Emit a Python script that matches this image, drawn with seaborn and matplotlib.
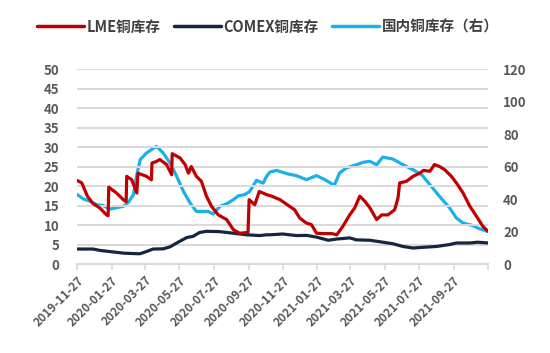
import matplotlib
matplotlib.use("Agg")
import matplotlib.pyplot as plt
from matplotlib.lines import Line2D
import seaborn as sns
import pandas as pd

# ---- data (days since 2019-11-27, values) ----
start_date = "2019-11-27"

lme_day = [0, 8, 18, 28, 40, 52, 55, 56, 70, 82, 87, 88, 97, 106, 108, 123, 132, 133, 141, 147,
           159, 168, 169, 183, 192, 198, 203, 212, 221, 230, 239, 251, 266, 278, 289, 304, 306,
           316, 324, 337, 346, 361, 378, 387, 396, 408, 417, 426, 438, 453, 462, 473, 485, 494,
           503, 512, 521, 533, 542, 553, 565, 571, 574, 586, 598, 610, 616, 628, 636, 645, 654,
           666, 675, 687, 699, 711, 722, 731]
lme_val = [21.4, 20.8, 17.4, 15.5, 14.4, 12.6, 12.4, 19.7, 18.2, 16.5, 16.0, 22.5, 21.6, 18.2,
           23.3, 22.5, 21.6, 25.9, 26.3, 26.8, 25.5, 22.9, 28.3, 27.2, 25.5, 23.3, 25.0, 22.5,
           21.2, 17.4, 14.8, 12.6, 11.4, 8.8, 7.9, 8.1, 16.5, 15.2, 18.6, 17.8, 17.4, 16.5, 14.8,
           13.9, 11.8, 10.5, 10.1, 7.9, 7.8, 7.8, 7.5, 9.7, 12.6, 14.4, 17.4, 16.1, 14.4, 11.4,
           12.6, 12.6, 13.9, 16.9, 20.8, 21.2, 22.5, 23.3, 24.0, 23.8, 25.5, 25.0, 24.2, 22.5,
           20.8, 18.2, 14.8, 12.2, 9.7, 8.4]

comex_day = [0, 28, 40, 64, 82, 106, 112, 123, 135, 153, 165, 177, 195, 206, 218, 230, 254, 278,
             301, 325, 337, 343, 366, 390, 408, 426, 447, 461, 485, 497, 521, 544, 562, 580, 598,
             616, 639, 663, 675, 699, 713, 731]
comex_val = [3.85, 3.85, 3.5, 3.1, 2.8, 2.65, 2.65, 3.2, 3.85, 3.9, 4.4, 5.4, 6.8, 7.1, 8.1, 8.4,
             8.3, 7.9, 7.5, 7.3, 7.5, 7.5, 7.7, 7.3, 7.35, 6.9, 6.1, 6.4, 6.7, 6.2, 6.1, 5.6, 5.2,
             4.5, 4.1, 4.3, 4.5, 5.0, 5.4, 5.4, 5.6, 5.4]

cn_day = [0, 11, 23, 35, 46, 58, 70, 82, 91, 100, 106, 112, 123, 132, 141, 153, 165, 177, 189,
          201, 212, 224, 233, 242, 254, 266, 278, 287, 298, 307, 319, 331, 337, 343, 355, 373,
          390, 408, 426, 441, 453, 458, 467, 479, 497, 509, 521, 533, 544, 562, 580, 598, 613,
          628, 645, 663, 675, 687, 705, 716, 731]
cn_val = [42.7, 40.0, 38.6, 36.5, 36.0, 33.8, 34.7, 35.5, 38.0, 42.7, 55.0, 64.2, 68.3, 70.4,
          72.4, 68.3, 62.2, 54.0, 44.7, 37.5, 32.4, 32.4, 32.4, 30.8, 35.5, 37.1, 39.6, 42.0,
          42.7, 44.7, 51.5, 49.8, 54.0, 56.6, 57.6, 55.6, 54.4, 51.9, 54.4, 51.9, 49.4, 48.8,
          56.0, 59.1, 61.1, 62.6, 63.2, 61.1, 65.8, 64.6, 61.1, 58.0, 55.0, 48.8, 41.6, 34.5,
          28.3, 25.2, 23.6, 21.7, 20.1]

series_names = ["LME铜库存", "COMEX铜库存", "国内铜库存（右）"]
tick_dates = ["2019-11-27", "2020-01-27", "2020-03-27", "2020-05-27", "2020-07-27",
              "2020-09-27", "2020-11-27", "2021-01-27", "2021-03-27", "2021-05-27",
              "2021-07-27", "2021-09-27", "2021-11-27"]
tick_labels = tick_dates[:-1] + [""]

# ---- style ----
sns.set_theme(style="white")
plt.rcParams["font.family"] = ["Noto Sans CJK SC", "DejaVu Sans"]

c_red = "#C00000"
c_navy = "#15263F"
c_blue = "#1CB0E8"
c_grid = "#D9D9D9"
c_text = "#595959"

t0 = pd.Timestamp(start_date)
def to_df(days, vals):
    return pd.DataFrame({"date": t0 + pd.to_timedelta(days, unit="D"), "value": vals})

df_lme = to_df(lme_day, lme_val)
df_comex = to_df(comex_day, comex_val)
df_cn = to_df(cn_day, cn_val)

fig = plt.figure(figsize=(5.5, 3.53), dpi=100)
ax = fig.add_axes([0.1405, 0.252, 0.7465, 0.5525])
ax2 = ax.twinx()

lw = 2.3
sns.lineplot(data=df_comex, x="date", y="value", ax=ax, color=c_navy, linewidth=lw,
             legend=False, zorder=3)
sns.lineplot(data=df_lme, x="date", y="value", ax=ax, color=c_red, linewidth=lw,
             legend=False, zorder=4)
sns.lineplot(data=df_cn, x="date", y="value", ax=ax2, color=c_blue, linewidth=lw,
             legend=False, zorder=3)

ax.set_zorder(ax2.get_zorder() + 1)
ax.patch.set_visible(False)

xmin = pd.Timestamp(tick_dates[0])
xmax = pd.Timestamp(tick_dates[-1])
ax.set_xlim(xmin, xmax)
ax.set_ylim(0, 50)
ax2.set_ylim(0, 120)
ax.set_yticks(range(0, 51, 5))
ax2.set_yticks(range(0, 121, 20))

ax.yaxis.grid(True, color=c_grid, linewidth=1.4)
ax.xaxis.grid(False)
ax2.grid(False)

for a in (ax, ax2):
    for s in ("top", "left", "right", "bottom"):
        a.spines[s].set_visible(False)
ax.spines["bottom"].set_visible(True)
ax.spines["bottom"].set_color(c_grid)
ax.spines["bottom"].set_linewidth(1.4)

ax.set_xticks(pd.to_datetime(tick_dates))
ax.set_xticklabels(tick_labels, rotation=45, ha="right", va="top",
                   rotation_mode="anchor", fontsize=8.5, fontweight="bold", color=c_text)
ax.tick_params(axis="x", length=4, width=1.2, color=c_grid, pad=3, bottom=True)
ax.tick_params(axis="y", length=0, pad=13, labelsize=9.5, labelcolor=c_text)
ax2.tick_params(axis="y", length=0, pad=11, labelsize=9.5, labelcolor=c_text)
for lab in ax.get_yticklabels() + ax2.get_yticklabels():
    lab.set_fontweight("bold")

ax.set_xlabel("")
ax.set_ylabel("")
ax2.set_ylabel("")

handles = [Line2D([0], [0], color=c, linewidth=2.5) for c in (c_red, c_navy, c_blue)]
leg = fig.legend(handles, series_names, loc="center", bbox_to_anchor=(0.487, 0.925), ncol=3,
                 frameon=False, fontsize=10.5, handlelength=3.2, handletextpad=0.2,
                 columnspacing=0.9)
for t in leg.get_texts():
    t.set_color("#404040")
    t.set_fontweight("bold")

fig.savefig("out.png", dpi=100)
